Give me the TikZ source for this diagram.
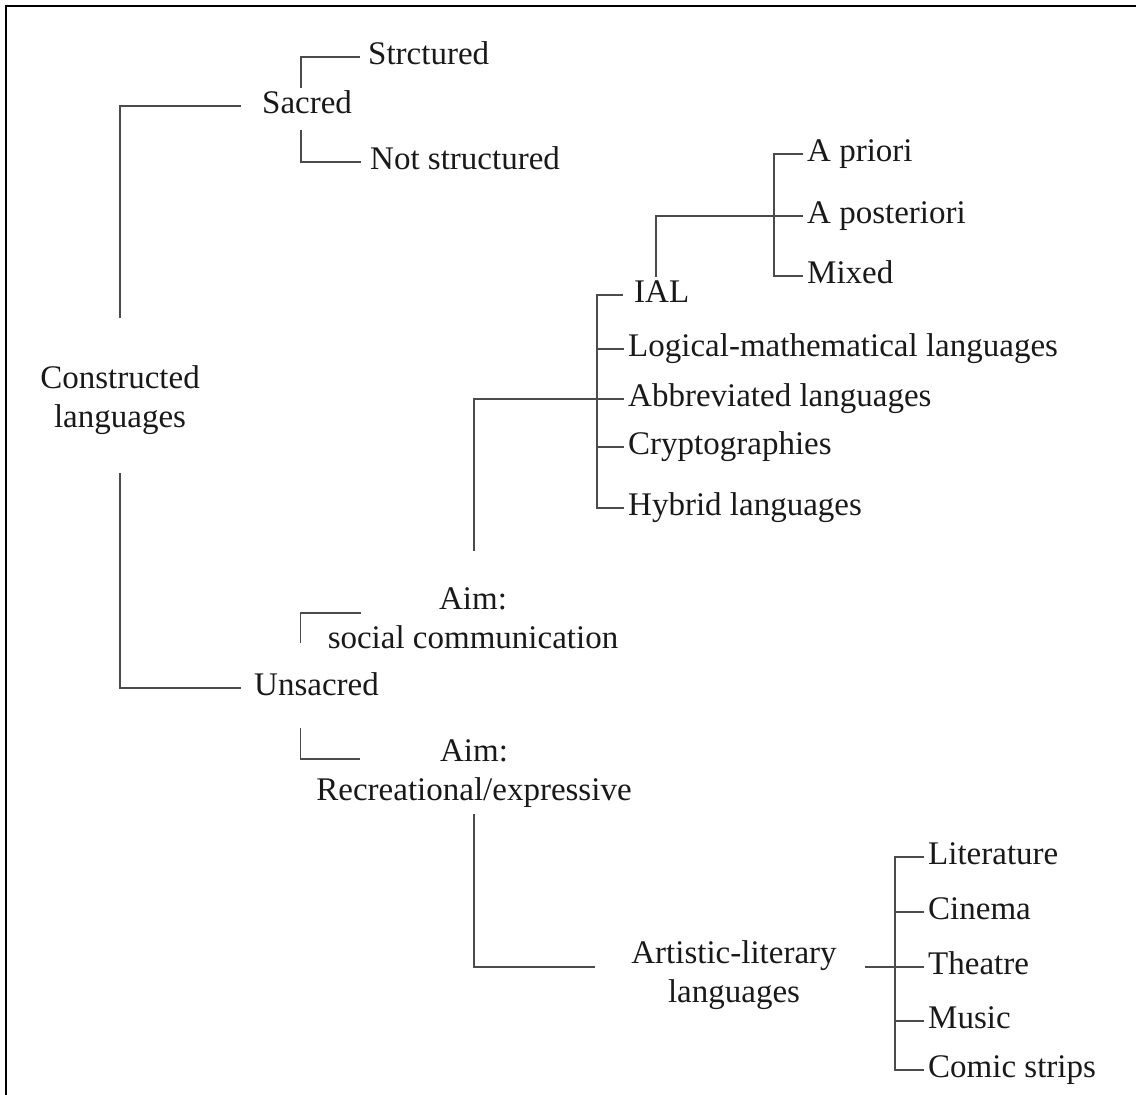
\documentclass[tikz,border=0pt]{standalone}
\usepackage{fontspec}
\setmainfont{Liberation Serif}
\usetikzlibrary{calc}

\begin{document}
\begin{tikzpicture}[x=1pt,y=-1pt,
  every node/.style={font=\fontsize{33}{39}\selectfont, text=myText, inner sep=0pt},
  leaf/.style={anchor=west, inner xsep=4pt, text height=21pt, text depth=7pt},
  link/.style={draw=myLine, line width=1.7pt}]
\definecolor{myLine}{RGB}{75,75,75}
\definecolor{myText}{RGB}{25,25,25}
\useasboundingbox (0,0) rectangle (1136,1095);
\draw[line width=2.5pt] (6,1095) -- (6,6) -- (1136,6);

\node[align=center] (cl) at (120,400) {Constructed\\languages};
\node[leaf] (sacred) at (258,106) {Sacred};
\node[leaf] (strct) at (364,57) {Strctured};
\node[leaf] (notstr) at (366,162) {Not structured};
\node[leaf] (unsacred) at (250,688) {Unsacred};
\node[align=center] (aimsoc) at (473,618) {Aim:\\social communication};
\node[align=center] (aimrec) at (474,774) {Aim:\\Recreational/expressive};

\node[leaf] (ial) at (630,295) {IAL};
\node[leaf] (logic) at (624,349) {Logical-mathematical languages};
\node[leaf] (abbr) at (624,399) {Abbreviated languages};
\node[leaf] (crypt) at (624,447) {Cryptographies};
\node[leaf] (hyb) at (624,508) {Hybrid languages};
\node[leaf] (apri) at (803,154) {A priori};
\node[leaf] (apost) at (803,216) {A posteriori};
\node[leaf] (mixed) at (803,276) {Mixed};

\node[align=center] (art) at (734,975) {Artistic-literary\\languages};
\node[leaf] (lit) at (924,857) {Literature};
\node[leaf] (cin) at (924,912) {Cinema};
\node[leaf] (thea) at (924,967) {Theatre};
\node[leaf] (mus) at (924,1021) {Music};
\node[leaf] (com) at (924,1070) {Comic strips};

\coordinate (spine) at (597,0);
\coordinate (spine2) at (774,0);
\coordinate (spine3) at (895,0);

\draw[link] ($(cl.north)+(0,-47)$) |- ($(sacred.west)+(-17,0)$);
\draw[link] ($(cl.south)+(0,38)$) |- ($(unsacred.west)+(-9,0)$);
\draw[link] ($(sacred.north)+(-6,-4)$) |- ($(strct.west)+(-4,0)$);
\draw[link] ($(sacred.south)+(-6,10)$) |- ($(notstr.west)+(-5,0)$);
\draw[link] ($(unsacred.north)+(-16,-31)$) |- ($(aimsoc.west)+(33,-5)$);
\draw[link] ($(unsacred.south)+(-16,26)$) |- ($(aimrec.west)+(44,-15)$);

\draw[link] ($(aimsoc.north)+(1,-36)$) |- (abbr.west);
\draw[link] ($(ial.west)+(-7,0)$) -| (spine |- hyb.west) -- (hyb.west);
\foreach \n in {logic,abbr,crypt}
  \draw[link] (spine |- \n.west) -- (\n.west);
\draw[link] ($(ial.north)+(-6,-4)$) |- (apost.west);
\draw[link] (apri.west) -| (spine2 |- mixed.west) -- (mixed.west);

\draw[link] ($(aimrec.south)+(0,6)$) |- ($(art.west)+(-36,-8)$);
\draw[link] ($(art.east)+(28,-8)$) -- (thea.west);
\draw[link] (lit.west) -| (spine3 |- com.west) -- (com.west);
\foreach \n in {cin,mus}
  \draw[link] (spine3 |- \n.west) -- (\n.west);
\end{tikzpicture}
\end{document}
